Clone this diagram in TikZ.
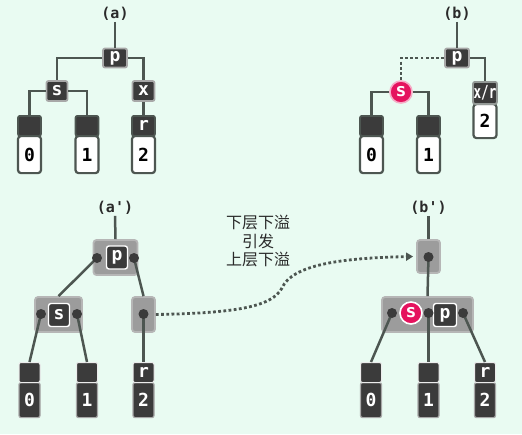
\documentclass[tikz,border=0pt]{standalone}
\usepackage{fontspec}
\setmonofont{DejaVu Sans Mono}
\newfontfamily\cjk{Noto Sans CJK SC}
\usetikzlibrary{arrows.meta}
\definecolor{bgc}{HTML}{E9FBF2}
\definecolor{dk}{HTML}{3B3B3B}
\definecolor{glow}{HTML}{A8A8A8}
\definecolor{ln}{HTML}{4D5651}
\definecolor{cont}{HTML}{9C9C9C}
\definecolor{contb}{HTML}{B6B6B6}
\definecolor{pinkc}{HTML}{E5135E}
\definecolor{txt}{HTML}{2A2A2A}
\begin{document}
\begin{tikzpicture}[x=1pt,y=-1pt,
  conn/.style={draw=ln,line width=2.5pt},
  dots/.style={draw=ln,line width=2.8pt,dash pattern=on 2.8pt off 2.4pt},
  lbl/.style={text=txt,font=\ttfamily\bfseries\fontsize{15}{15}\selectfont,inner sep=1pt},
  bigf/.style={font=\ttfamily\bfseries\fontsize{18}{18}\selectfont},
  dbox/.style={rectangle,rounded corners=2pt,fill=dk,draw=glow,line width=1.8pt,text=white,bigf,inner sep=0pt},
  ibox/.style={rectangle,rounded corners=2.5pt,fill=dk,draw=white,line width=1.4pt,text=white,
    bigf,inner sep=0pt,minimum width=21pt,minimum height=23pt},
  scirc/.style={circle,fill=pinkc,draw=#1,line width=1.6pt,minimum size=22pt,inner sep=0pt,text=white,bigf},
  contbox/.style={rectangle,rounded corners=3pt,fill=cont,draw=contb,line width=1.8pt,inner sep=0pt},
  pdot/.style={circle,fill=dk,minimum size=10pt,inner sep=0pt},
  ltop/.style={rectangle,rounded corners=2pt,fill=dk,draw=ln,line width=1.8pt,minimum width=23pt,
    minimum height=20pt,anchor=north,inner sep=0pt,text=white,bigf},
  lbot/.style={rectangle,rounded corners=3pt,fill=white,draw=ln,line width=2.2pt,minimum width=23pt,
    minimum height=37pt,anchor=north,inner sep=0pt,text=black,bigf},
  dtop/.style={rectangle,rounded corners=2pt,fill=dk,draw=white!85!gray,line width=1pt,minimum width=21pt,
    minimum height=20pt,anchor=north,inner sep=0pt,text=white,bigf},
  dbot/.style={rectangle,rounded corners=2pt,fill=dk,draw=glow,line width=1.2pt,minimum width=21pt,
    minimum height=35pt,anchor=north,inner sep=0pt,text=white,bigf}
]
\fill[bgc] (0,0) rectangle (522,434);
\useasboundingbox (0,0) rectangle (522,434);

% ---------------- (a)
\node[lbl] (la) at (115,14) {(a)};
\node[dbox,minimum width=24pt,minimum height=19pt] (ap) at (115,58) {p};
\node[dbox,minimum width=21pt,minimum height=20pt] (as) at (57,91) {s};
\node[dbox,minimum width=22pt,minimum height=20pt] (ax) at (143.5,91) {x};
\node[lbot] (a0b) at (29.5,135) {0};
\node[ltop] (a0t) at (29.5,115) {};
\node[lbot] (a1b) at (87,135) {1};
\node[ltop] (a1t) at (87,115) {};
\node[lbot] (a2b) at (143.5,135) {2};
\node[ltop] (a2t) at (143.5,115) {r};
\draw[conn] (la.south) -- (ap.north);
\draw[conn] (ap.west) -| (as.north);
\draw[conn] (ap.east) -| (ax.north);
\draw[conn] (as.west) -| (a0t.north);
\draw[conn] (as.east) -| (a1t.north);
\draw[conn] (ax.south) -- (a2t.north);

% ---------------- (b)
\node[lbl] (lb) at (457,14) {(b)};
\node[dbox,minimum width=24pt,minimum height=19pt] (bp) at (457,58) {p};
\node[scirc=pinkc!35] (bs) at (401,92) {s};
\node[lbot,minimum height=34pt] (bxrb) at (485,103) {2};
\node[ltop,minimum width=24pt,minimum height=22pt,draw=ln!60] (bxr) at (485,81) {\scalebox{0.7}[1]{x/r}};
\node[lbot] (b0b) at (371.5,135) {0};
\node[ltop] (b0t) at (371.5,115) {};
\node[lbot] (b1b) at (428.5,135) {1};
\node[ltop] (b1t) at (428.5,115) {};
\draw[conn] (lb.south) -- (bp.north);
\draw[dots] (bp.west) -| (bs.north);
\draw[conn] (bp.east) -| (bxr.north);
\draw[conn] (bs.west) -| (b0t.north);
\draw[conn] (bs.east) -| (b1t.north);

% ---------------- (a')
\node[lbl] (lap) at (115,208) {(a')};
\node[contbox,minimum width=44pt,minimum height=35pt] (apc) at (115.5,257.5) {};
\node[ibox] (app) at (117,257.5) {p};
\node[contbox,minimum width=47pt,minimum height=35pt] (asc) at (58.5,314.5) {};
\node[ibox] (ass) at (59,315) {s};
\node[contbox,minimum width=23pt,minimum height=35pt] (aec) at (143.5,314.5) {};
\coordinate (apl) at (97,258);
\coordinate (apr) at (134,258);
\coordinate (asl) at (41,314);
\coordinate (asr) at (77,314);
\coordinate (aed) at (143.5,314);
\node[dbot] (c0b) at (29.5,382) {0};
\node[dtop] (c0t) at (29.5,362) {};
\node[dbot] (c1b) at (87,382) {1};
\node[dtop] (c1t) at (87,362) {};
\node[dbot] (c2b) at (143.5,382) {2};
\node[dtop] (c2t) at (143.5,362) {r};
\draw[conn] (lap.south) -- (apc.north);
\draw[conn] (apl) -- (asc.north);
\draw[conn] (apr) -- (aec.north);
\draw[conn] (asl) -- (c0t.north);
\draw[conn] (asr) -- (c1t.north);
\draw[conn] (aed) -- (c2t.north);
\node[pdot] at (apl) {};
\node[pdot] at (apr) {};
\node[pdot] at (asl) {};
\node[pdot] at (asr) {};
\node[pdot] at (aed) {};

% ---------------- (b')
\node[lbl] (lbp) at (428.5,208) {(b')};
\node[contbox,minimum width=23pt,minimum height=33pt] (btc) at (428.5,256.5) {};
\node[contbox,minimum width=91pt,minimum height=35pt] (bbc) at (427.5,314.5) {};
\coordinate (btd) at (428.5,257);
\coordinate (bd1) at (392,313);
\coordinate (bd2) at (428.5,313);
\coordinate (bd3) at (463,313);
\node[scirc=white] (bss) at (411,313) {s};
\node[ibox,minimum width=23pt,minimum height=23pt] (bpp) at (445,315) {p};
\node[dbot] (d0b) at (371,382) {0};
\node[dtop] (d0t) at (371,362) {};
\node[dbot] (d1b) at (428.5,382) {1};
\node[dtop] (d1t) at (428.5,362) {};
\node[dbot] (d2b) at (485,382) {2};
\node[dtop] (d2t) at (485,362) {r};
\draw[conn] (lbp.south) -- (btc.north);
\draw[conn] (btd) -- (bbc.north);
\draw[conn] (bd1) -- (d0t.north);
\draw[conn] (bd2) -- (d1t.north);
\draw[conn] (bd3) -- (d2t.north);
\node[pdot] at (btd) {};
\node[pdot] at (bd1) {};
\node[pdot] at (bd2) {};
\node[pdot] at (bd3) {};

% ---------------- arrow and text
\node[text=txt,align=center,font=\cjk\fontsize{16}{18.5}\selectfont] (msg) at (258,241) {下层下溢\\引发\\上层下溢};
\draw[dots,-{Triangle[length=7pt,width=8pt]}] (aec.east) .. controls (240,313) and (272,306) .. (282,288)
  .. controls (292,265) and (340,258) .. ([xshift=-3pt]btc.west);
\end{tikzpicture}
\end{document}
